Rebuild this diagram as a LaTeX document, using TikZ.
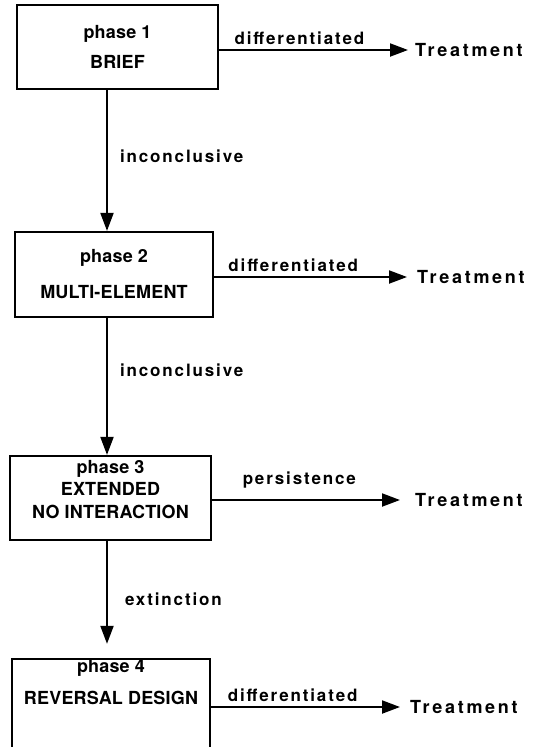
\documentclass[tikz,border=0pt]{standalone}
\usepackage{fontspec}
\setmainfont{TeX Gyre Heros}
\newfontfamily\boxfont{TeX Gyre Heros}[LetterSpace=1]
\newfontfamily\labfont{TeX Gyre Heros}[LetterSpace=11]
\newfontfamily\outfont{TeX Gyre Heros}[LetterSpace=15]
\usetikzlibrary{arrows.meta,positioning}

\begin{document}
\begin{tikzpicture}[x=1pt,y=-1pt,
		phasebox/.style={draw,line width=2.2pt,align=center,inner sep=0pt,
			font=\boxfont\bfseries\fontsize{18}{21}\selectfont},
		outcome/.style={font=\outfont\bfseries\fontsize{18}{21}\selectfont,inner sep=0pt,anchor=west},
		lbl/.style={font=\labfont\bfseries\fontsize{17}{21}\selectfont,inner sep=2pt},
		flow/.style={line width=2pt,-{Triangle[length=18pt,width=13pt]}}]
	\useasboundingbox (0,0) rectangle (537,747);
	\node [phasebox,minimum width=201pt,minimum height=84pt] (p1) at (117.5,47) {phase 1\\[9pt]BRIEF};
	\node [phasebox,minimum width=198pt,minimum height=85pt] (p2) at (114,274.5) {phase 2\\[15pt]MULTI-ELEMENT};
	\node [phasebox,minimum width=201pt,minimum height=84pt] (p3) at (110.5,498) {phase 3\\[1pt]EXTENDED\\[2pt]NO INTERACTION\\[-4pt]~};
	\node [phasebox,minimum width=198pt,minimum height=84pt] (p4) at (111,703.5) {phase 4\\[11pt]REVERSAL DESIGN\\[23pt]~};
	%
	\node [outcome] (t1) at (415,50) {Treatment};
	\node [outcome] (t2) at (417,277) {Treatment};
	\node [outcome] (t3) at (415,500) {Treatment};
	\node [outcome] (t4) at (410,707) {Treatment};
	\coordinate (spine) at (107,0);
	%
	\draw [flow,shorten >=7pt] (p1.east |- t1.west) -- (t1.west) node [lbl,above=2pt,pos=0.41] {differentiated};
	\draw [flow,shorten >=10pt] (p2.east |- t2.west) -- (t2.west) node [lbl,above=2pt,pos=0.39] {differentiated};
	\draw [flow,shorten >=15pt] (p3.east |- t3.west) -- (t3.west) node [lbl,above=9pt,pos=0.43] {persistence};
	\draw [flow,shorten >=10pt] (p4.east |- t4.west) -- (t4.west) node [lbl,above=2pt,pos=0.41] {differentiated};
	%
	\draw [flow] (p1.south -| spine) -- (p2.north -| spine) node [lbl,right=10pt,pos=0.47] {inconclusive};
	\draw [flow] (p2.south -| spine) -- (p3.north -| spine) node [lbl,right=10pt,pos=0.38] {inconclusive};
	\draw [flow,shorten >=14pt] (p3.south -| spine) -- (p4.north -| spine) node [lbl,right=15pt,pos=0.5] {extinction};
\end{tikzpicture}
\end{document}
